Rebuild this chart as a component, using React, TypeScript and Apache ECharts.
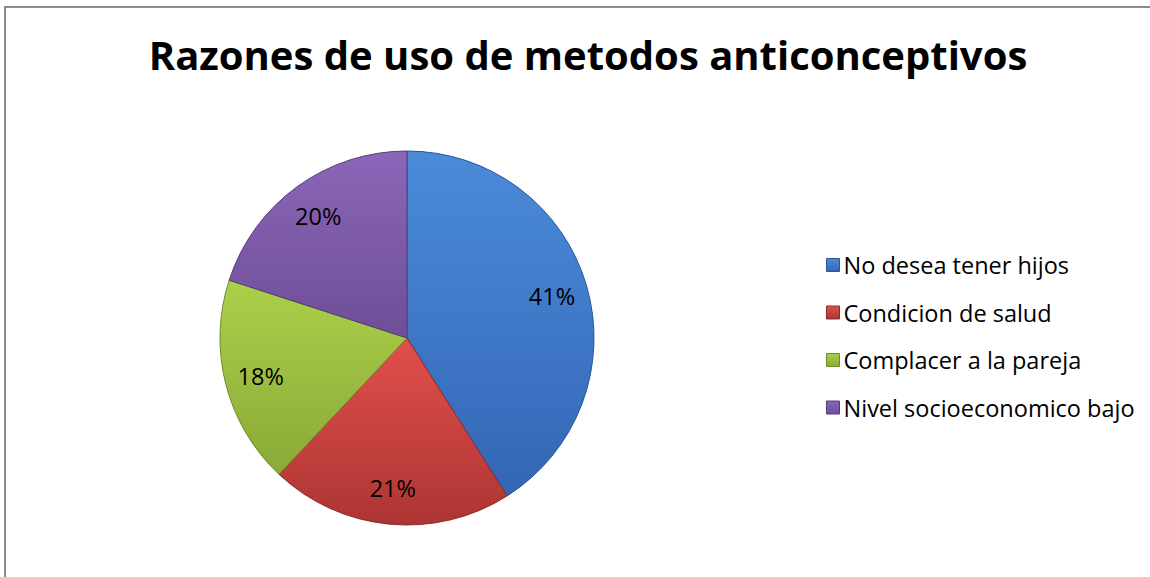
import React, { useEffect, useRef } from "react";
import * as echarts from "echarts";

const categories = ["No desea tener hijos", "Condicion de salud", "Complacer a la pareja", "Nivel socioeconomico bajo"];
const values = [41, 21, 18, 20];
const topColors = ["#4b8bd9", "#e24f4c", "#acd04a", "#8b66b9"];
const bottomColors = ["#3366b5", "#ac3533", "#8aa937", "#6d4e97"];
const edgeColors = ["#2a5596", "#8c2b29", "#6f8a2c", "#553c78"];

function grad(i: number) {
  return new echarts.graphic.LinearGradient(0, 0, 0, 1, [
    { offset: 0, color: topColors[i] },
    { offset: 1, color: bottomColors[i] },
  ]);
}

export default function App() {
  const ref = useRef<HTMLDivElement>(null);
  useEffect(() => {
    if (!ref.current) return;
    const chart = echarts.init(ref.current, null, { renderer: "svg" });
    const data = categories.map((name, i) => ({
      name,
      value: values[i],
      itemStyle: { color: grad(i), borderColor: edgeColors[i] },
    }));
    chart.setOption({
      animation: false,
      backgroundColor: "#ffffff",
      title: {
        text: "Razones de uso de metodos anticonceptivos",
        left: 583,
        textAlign: "center",
        top: 29,
        textStyle: { fontFamily: "Open Sans", fontWeight: "bold", fontSize: 40, color: "#000" },
      },
      legend: {
        orient: "vertical",
        left: 821,
        top: 248,
        itemWidth: 13,
        itemHeight: 13,
        itemGap: 23.5,
        icon: "rect",
        data: categories.map((name, i) => ({
          name,
          itemStyle: { color: grad(i), borderColor: edgeColors[i], borderWidth: 1 },
        })),
        textStyle: { fontFamily: "Open Sans", fontSize: 23.5, color: "#000", padding: [0, 0, 0, -1] },
      },
      graphic: [
        {
          type: "rect",
          shape: { x: 5, y: 7, width: 1200, height: 620 },
          style: { fill: "none", stroke: "#8c8c8c", lineWidth: 2 },
          silent: true,
        },
      ],
      series: [
        {
          type: "pie",
          center: [407, 338],
          radius: [0, 187],
          startAngle: 90,
          clockwise: true,
          label: { show: false },
          labelLine: { show: false },
          itemStyle: { borderWidth: 1 },
          emphasis: { disabled: true },
          data,
        },
        {
          type: "pie",
          center: [407, 338],
          radius: [109, 187],
          startAngle: 90,
          clockwise: true,
          silent: true,
          itemStyle: { color: "transparent" },
          label: {
            show: true,
            position: "inside",
            formatter: "{c}%",
            fontFamily: "Open Sans",
            fontSize: 23.5,
            color: "#000",
          },
          labelLine: { show: false },
          data: categories.map((name, i) => ({ name: name + " ", value: values[i] })),
          legendHoverLink: false,
        },
      ],
    });
    return () => chart.dispose();
  }, []);
  return <div ref={ref} style={{ position: "absolute", left: 0, top: 0, width: 1150, height: 577 }} />;
}
